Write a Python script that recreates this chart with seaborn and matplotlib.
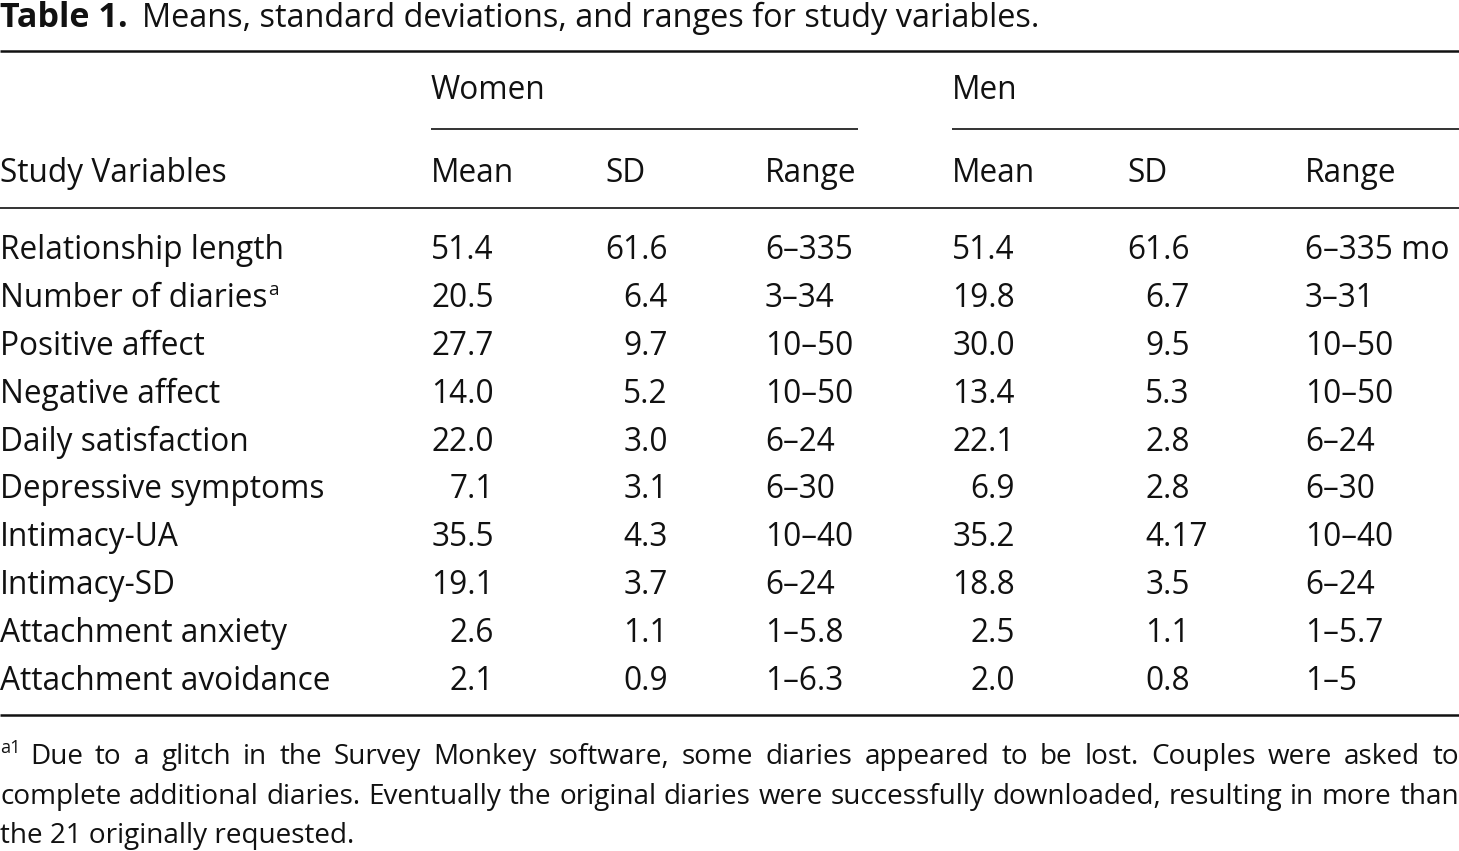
import matplotlib
matplotlib.use("Agg")
import matplotlib.pyplot as plt
import seaborn as sns

# ---------------- data ----------------
title_bold = "Table 1."
title_rest = "Means, standard deviations, and ranges for study variables."
groups = ["Women", "Men"]
col_headers = ["Mean", "SD", "Range"]
row_header = "Study Variables"
variables = ["Relationship length", "Number of diaries", "Positive affect",
             "Negative affect", "Daily satisfaction", "Depressive symptoms",
             "Intimacy-UA", "Intimacy-SD", "Attachment anxiety",
             "Attachment avoidance"]
women_mean = ["51.4", "20.5", "27.7", "14.0", "22.0", "7.1", "35.5", "19.1", "2.6", "2.1"]
women_sd = ["61.6", "6.4", "9.7", "5.2", "3.0", "3.1", "4.3", "3.7", "1.1", "0.9"]
women_range = ["6–335", "3–34", "10–50", "10–50", "6–24", "6–30", "10–40", "6–24", "1–5.8", "1–6.3"]
men_mean = ["51.4", "19.8", "30.0", "13.4", "22.1", "6.9", "35.2", "18.8", "2.5", "2.0"]
men_sd = ["61.6", "6.7", "9.5", "5.3", "2.8", "2.8", "4.17", "3.5", "1.1", "0.8"]
men_range = ["6–335 mo", "3–31", "10–50", "10–50", "6–24", "6–30", "10–40", "6–24", "1–5.7", "1–5"]
note_mark = "a1"
note_lines = [
    "Due to a glitch in the Survey Monkey software, some diaries appeared to be lost. Couples were asked to",
    "complete additional diaries. Eventually the original diaries were successfully downloaded, resulting in more than",
    "the 21 originally requested.",
]

# ---------------- style ----------------
sns.set_theme(style="white")
plt.rcParams["font.family"] = ["Open Sans", "DejaVu Sans"]
INK = "#111111"

W, H = 1459, 851
fig = plt.figure(figsize=(W / 100, H / 100), dpi=100)
ax = fig.add_axes([0, 0, 1, 1])
ax.set_xlim(0, W)
ax.set_ylim(H, 0)
ax.axis("off")
renderer = fig.canvas.get_renderer()
FS = 20.0


def txt(x, y, s, **kw):
    kw.setdefault("fontsize", FS)
    kw.setdefault("color", INK)
    kw.setdefault("va", "baseline")
    return ax.text(x, y, s, **kw)


def width(s, **kw):
    t = txt(0, 0, s, **kw)
    w = t.get_window_extent(renderer).width
    t.remove()
    return w


# fit body size to the reference width of the first row label
FS = FS * 283 / width(variables[0])

# title
BFS = FS * 1.08
txt(0, 27, title_bold, fontweight="bold", fontsize=BFS)
rest_x = width(title_bold, fontweight="bold", fontsize=BFS) + 14
TFS = FS * (1043 - rest_x) / width(title_rest)
txt(rest_x, 27, title_rest, fontsize=TFS)

# rules
ax.hlines(51, 0, W, color=INK, lw=1.8)
ax.hlines(129, 431, 858, color=INK, lw=1.2)
ax.hlines(129, 952, W, color=INK, lw=1.2)
ax.hlines(208, 0, W, color=INK, lw=1.2)
ax.hlines(715, 0, W, color=INK, lw=1.8)

# headers
group_x = [431, 952]
for gx, g in zip(group_x, groups):
    txt(gx, 99, g)
txt(0, 182, row_header)
header_x = [[431, 605, 765], [952, 1127, 1305]]
for hx in header_x:
    for x, h in zip(hx, col_headers):
        txt(x, 182, h)

# body
base0, step = 259, 47.9
frac_w = width(".0")


def dec(right_edge, y, s):
    anchor = right_edge - frac_w
    ip = s.split(".")[0]
    txt(anchor - width(ip), y, s)


for i, v in enumerate(variables):
    y = base0 + step * i
    txt(0, y, v)
    if i == 1:
        txt(width(v) + 1, y - 12, "a", fontsize=FS * 0.6)
    dec(494, y, women_mean[i])
    dec(668, y, women_sd[i])
    txt(765, y, women_range[i])
    dec(1015, y, men_mean[i])
    dec(1190, y, men_sd[i])
    txt(1305, y, men_range[i])

# footnote: size chosen so the tight second line spans the full width
NFS = FS * (W - 2) / width(note_lines[1])


def justify(words, x0, x1, y):
    ws = [width(w, fontsize=NFS) for w in words]
    gap = (x1 - x0 - sum(ws)) / (len(words) - 1)
    x = x0
    for w, wd in zip(words, ws):
        txt(x, y, w, fontsize=NFS)
        x += wd + gap


txt(0, 753, note_mark, fontsize=NFS * 0.65)
justify(note_lines[0].split(), 30, W, 764)
justify(note_lines[1].split(), 0, W, 804)
txt(0, 843, note_lines[2], fontsize=NFS)

fig.savefig("out.png", dpi=100)
